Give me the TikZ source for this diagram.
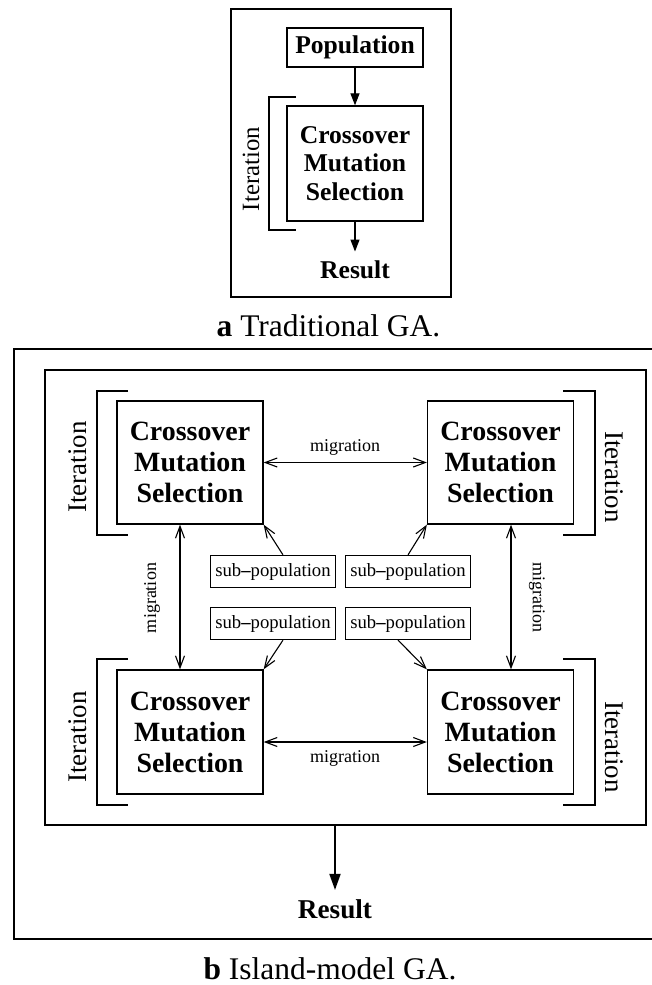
\documentclass[tikz,border=0pt]{standalone}
\usepackage{fontspec}
\setmainfont{Liberation Serif}
\usetikzlibrary{arrows.meta}
\newcommand{\subpoptext}{sub{\bfseries --}population}
\begin{document}
\begin{tikzpicture}[x=1pt,y=-1pt,
  frame/.style={draw, line width=1.3pt},
  stage/.style={draw, line width=1.3pt, inner sep=0pt, align=center,
    minimum width=146pt, minimum height=123pt,
    font=\fontsize{27.9}{31}\selectfont\bfseries},
  smallstage/.style={draw, line width=1.3pt, inner sep=0pt, align=center,
    font=\fontsize{25.6}{28.3}\selectfont\bfseries},
  subpop/.style={draw, line width=1.2pt, inner sep=0pt, minimum width=125pt,
    minimum height=32pt, font=\fontsize{18.7}{20}\selectfont},
  bracket/.style={draw, line width=1.2pt},
  iterlbl/.style={inner sep=0pt, font=\fontsize{26.9}{30}\selectfont},
  miglbl/.style={inner sep=0pt, font=\fontsize{18}{20}\selectfont},
  flow/.style={draw, line width=1.2pt, -{Triangle[length=12pt,width=9pt]}},
  bigflow/.style={draw, line width=1.8pt, -{Triangle[length=16pt,width=11pt]}},
  mig/.style={draw, line width=1.1pt, {Straight Barb[length=12pt,width=9pt]}-{Straight Barb[length=12pt,width=9pt]}},
  feed/.style={draw, line width=1.1pt, -{Straight Barb[length=12pt,width=9pt]}},
  caption/.style={inner sep=0pt, anchor=base, font=\fontsize{31.5}{34}\selectfont}
]
\useasboundingbox (0,0) rectangle (652,985);

% ---------- (a) traditional GA ----------
\draw[frame] (231,9) rectangle (451,297);
\node[smallstage, minimum width=136pt, minimum height=39pt] (pop) at (355,47.5) {Population};
\node[smallstage, minimum width=136pt, minimum height=115pt] (ops) at (355,163.5) {Crossover\\Mutation\\Selection};
\node[anchor=base, inner sep=8.5pt, font=\fontsize{25.6}{28}\selectfont\bfseries] (resa) at (355,278) {Result};
\draw[flow] (pop.south) -- (ops.north);
\draw[flow] (ops.south) -- (resa.north);
\draw[bracket] (296,97) -| (269,230) -- (296,230);
\node[inner sep=0pt, rotate=90, font=\fontsize{24.8}{28}\selectfont] (itera) at (251,169) {Iteration};
\node[caption] (capa) at (328.5,336) {\textbf{a} Traditional GA.};

% ---------- (b) island-model GA ----------
\draw[frame] (14,349) rectangle (660,939);
\node[frame, inner sep=0pt, minimum width=601pt, minimum height=455pt] (island) at (345.5,597.5) {};

\node[stage] (tl) at (190,462.5) {Crossover\\Mutation\\Selection};
\node[stage] (tr) at (500.5,462.5) {Crossover\\Mutation\\Selection};
\node[stage, minimum height=124pt] (bl) at (190,732) {Crossover\\Mutation\\Selection};
\node[stage, minimum height=124pt] (br) at (500.5,732) {Crossover\\Mutation\\Selection};

% iteration brackets
\draw[bracket] (128,391) -| (97,535) -- (128,535);
\draw[bracket] (563,391) -| (595,535) -- (563,535);
\draw[bracket] (128,659) -| (97,805) -- (128,805);
\draw[bracket] (563,659) -| (595,805) -- (563,805);
\node[iterlbl, rotate=90] (itl) at (78,467) {Iteration};
\node[iterlbl, rotate=-90] (itr) at (614,477) {Iteration};
\node[iterlbl, rotate=90] (ibl) at (78,737) {Iteration};
\node[iterlbl, rotate=-90] (ibr) at (614,747) {Iteration};

% sub-populations
\node[subpop] (s1) at (273,571.5) {\subpoptext};
\node[subpop] (s2) at (408,571.5) {\subpoptext};
\node[subpop] (s3) at (273,623.5) {\subpoptext};
\node[subpop] (s4) at (408,623.5) {\subpoptext};
\draw[feed] ([xshift=10pt]s1.north) -- (tl.south east);
\draw[feed] (s2.north) -- (tr.south west);
\draw[feed] ([xshift=10pt]s3.south) -- (bl.north east);
\draw[feed] ([xshift=-10pt]s4.south) -- (br.north west);

% migration links
\coordinate (vl) at (180,0);
\coordinate (vr) at (511,0);
\coordinate (hb) at (0,742);
\draw[mig] (tl.east) -- (tr.west);
\draw[mig] (bl.east |- hb) -- (br.west |- hb);
\draw[mig] (tl.south -| vl) -- (bl.north -| vl);
\draw[mig] (tr.south -| vr) -- (br.north -| vr);
\node[miglbl] (m1) at (345,447) {migration};
\node[miglbl] (m2) at (345,758) {migration};
\node[miglbl, rotate=90] (m3) at (152,598) {migration};
\node[miglbl, rotate=-90] (m4) at (537,597.5) {migration};

% result
\node[anchor=base, inner sep=9pt, font=\fontsize{27.2}{30}\selectfont\bfseries] (resb) at (335,918) {Result};
\draw[bigflow] (island.south -| resb.north) -- (resb.north);
\node[caption] (capb) at (330,979) {\textbf{b} Island-model GA.};
\end{tikzpicture}
\end{document}
